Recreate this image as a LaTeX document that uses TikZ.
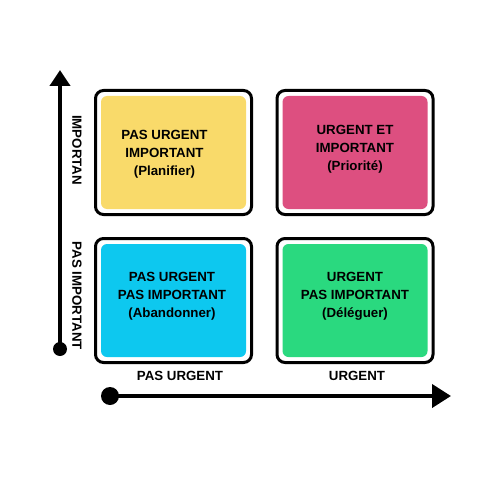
\documentclass[tikz,border=0pt]{standalone}
\usepackage{fontspec}
\setmainfont{Liberation Sans}
\usetikzlibrary{arrows.meta}
\definecolor{cyel}{HTML}{F9DA6A}
\definecolor{cpink}{HTML}{DD4F80}
\definecolor{cblue}{HTML}{0DC8EF}
\definecolor{cgreen}{HTML}{2AD97F}
\begin{document}
\begin{tikzpicture}[x=1pt,y=-1pt,
  outerbox/.style={draw=black,line width=3pt,rounded corners=8pt,minimum width=156pt,minimum height=124pt,inner sep=0pt,fill=white},
  innerbox/.style={rounded corners=6pt,minimum width=145pt,minimum height=113pt,inner sep=0pt},
  lbl/.style={font=\fontsize{13.3}{18}\selectfont\bfseries,align=center,inner sep=0pt},
  axis/.style={line width=4pt},
  dot/.style={circle,fill=black,inner sep=0pt}]
\useasboundingbox (0,0) rectangle (500,500);
% boxes
\node[outerbox] (o1) at (173.5,152.5) {};
\node[innerbox,fill=cyel] (i1) at (173.5,152.5) {};
\node[outerbox] (o2) at (355,152.5) {};
\node[innerbox,fill=cpink] (i2) at (355,152.5) {};
\node[outerbox] (o3) at (173.5,300.5) {};
\node[innerbox,fill=cblue] (i3) at (173.5,300.5) {};
\node[outerbox] (o4) at (355,300.5) {};
\node[innerbox,fill=cgreen] (i4) at (355,300.5) {};
% texts
\node[lbl] (t1) at (164.5,154) {PAS URGENT\\IMPORTANT\\(Planifier)};
\node[lbl] (t2) at (355,149) {URGENT ET\\IMPORTANT\\(Priorité)};
\node[lbl] (t3) at (172,296) {PAS URGENT\\PAS IMPORTANT\\(Abandonner)};
\node[lbl] (t4) at (355,296) {URGENT\\PAS IMPORTANT\\(Déléguer)};
% axes
\node[dot,minimum size=14pt] (vdot) at (60,349) {};
\coordinate (vtip) at (60,70);
\draw[axis,-{Triangle[width=20pt,length=16pt]}] (vdot.center) -- (vtip);
\node[dot,minimum size=18pt] (hdot) at (110,396) {};
\coordinate (htip) at (451,396);
\draw[axis,-{Triangle[width=23pt,length=19pt]}] (hdot.center) -- (htip);
% axis labels
\node[lbl,rotate=-90] (ly1) at (77,150) {IMPORTAN};
\node[lbl,rotate=-90] (ly2) at (77,296) {PAS IMPORTANT};
\node[lbl] (lx1) at (180,376) {PAS URGENT};
\node[lbl] (lx2) at (357,376) {URGENT};
\end{tikzpicture}
\end{document}
